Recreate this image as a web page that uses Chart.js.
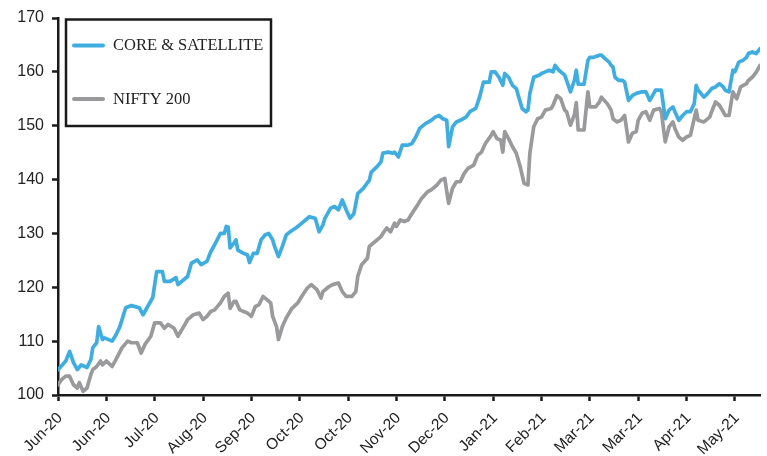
<!DOCTYPE html>
<html>
<head>
<meta charset="utf-8">
<script src="https://cdn.jsdelivr.net/npm/chart.js@4/dist/chart.umd.min.js"></script>
<style>
  html, body { margin: 0; padding: 0; background: #ffffff; }
  #wrap { width: 767px; height: 456px; position: relative; }
</style>
</head>
<body>
<div id="wrap"><canvas id="c"></canvas></div>
<script>
// ---- DATA ----
// x axis: day offsets from 1 Jun 2020; tick every 25 days
const tickLabels = ['Jun-20','Jun-20','Jul-20','Aug-20','Sep-20','Oct-20','Oct-20','Nov-20','Dec-20','Jan-21','Feb-21','Mar-21','Mar-21','Apr-21','May-21'];

const seriesNames = ['CORE & SATELLITE', 'NIFTY 200'];

const coreDays = [0,4,6,8,10,12,15,17,18,20,21,23,24,28,30,32,35,38,42,44,46,49,51,54,55,58,61,62,65,67,69,72,74,77,79,81,84,86,87,88,89,91,92,93,96,98,99,101,103,105,107,109,111,112,114,116,118,120,123,125,128,130,133,135,137,138,141,143,145,147,149,151,153,155,158,161,162,165,167,168,171,173,174,176,178,181,183,185,187,190,193,195,197,199,201,202,204,206,208,211,213,216,218,220,223,224,226,228,230,231,233,235,237,238,240,242,243,244,246,249,250,252,254,256,257,259,262,263,265,267,268,269,272,274,275,277,280,281,283,285,286,287,288,290,292,293,295,297,299,302,304,306,307,309,312,314,316,318,319,321,323,325,327,329,330,331,334,336,338,340,342,344,345,347,349,350,352,354,356,357,359,361,363];
const coreValues = [104.7,106.3,108.1,106.0,104.7,105.6,105.1,106.6,108.8,109.7,112.7,110.3,110.6,110.0,111.2,112.7,116.2,116.6,116.2,114.9,116.2,118.1,122.9,122.9,121.1,121.1,121.8,120.5,121.4,122.0,124.5,125.1,124.2,124.8,126.6,127.9,130.0,130.0,131.3,131.2,127.3,128.2,128.8,126.9,126.3,126.0,124.6,126.3,126.3,128.8,129.7,130.0,128.8,127.6,125.7,127.6,129.7,130.3,131.0,131.6,132.5,133.1,132.8,130.3,131.6,132.8,134.7,135.0,134.4,136.2,134.4,132.8,133.7,137.4,138.4,139.9,141.4,142.4,143.3,144.9,145.1,144.9,145.1,144.2,146.4,146.4,146.7,147.9,149.5,150.4,151.0,151.6,151.9,151.3,151.0,146.1,149.8,150.7,151.0,151.6,152.6,153.2,155.3,158.1,158.1,160.0,160.0,159.0,157.5,159.7,159.0,157.5,156.9,155.6,153.2,152.6,152.9,156.0,159.0,159.4,159.7,160.0,160.3,160.0,161.2,160.3,159.4,158.4,156.3,158.4,160.3,157.7,157.7,162.1,162.7,162.7,163.1,163.1,162.4,161.8,161.2,160.9,159.0,158.4,158.4,158.1,154.7,155.6,156.0,156.3,156.3,154.7,155.3,156.6,156.6,151.3,152.9,153.5,152.6,151.0,151.9,152.6,152.6,154.1,157.5,156.6,155.3,156.0,156.9,157.2,157.8,157.2,156.6,156.3,160.3,160.0,161.8,162.1,162.7,163.4,163.7,163.4,164.3];

const niftyDays = [0,2,4,6,8,10,11,13,15,17,18,20,22,23,25,28,30,33,36,38,41,43,45,48,50,53,55,57,60,62,65,67,70,73,75,77,79,81,84,86,88,89,91,92,94,96,98,100,102,104,106,108,110,111,113,114,116,118,119,121,124,126,129,131,134,136,137,140,142,145,147,149,152,154,155,157,160,161,164,167,168,170,172,174,175,177,179,181,183,186,188,191,193,196,198,200,202,204,206,208,210,212,215,217,219,221,224,225,227,229,230,231,233,235,237,239,241,243,244,246,248,250,252,255,256,258,260,262,263,265,267,268,269,272,274,275,278,280,281,284,286,287,289,291,293,295,297,299,300,302,304,306,308,311,312,314,316,318,319,321,323,325,327,330,331,334,337,338,340,342,344,345,347,349,351,353,356,357,359,361,363];
const niftyValues = [101.9,102.9,103.5,103.5,101.9,101.3,102.3,100.7,101.3,103.8,104.7,105.3,106.3,105.6,106.3,105.3,106.6,108.7,110.0,109.7,109.7,107.8,109.4,110.9,113.4,113.4,112.4,113.1,112.4,110.9,112.7,114.0,114.9,115.2,114.0,114.6,115.5,115.8,117.1,118.3,118.9,116.1,117.4,117.4,115.8,115.5,115.2,114.6,116.4,116.8,118.3,117.7,117.1,114.6,112.7,110.3,112.7,114.3,114.9,116.1,117.1,118.3,119.9,120.5,119.5,118.0,119.2,120.1,120.5,120.8,119.2,118.3,118.3,119.2,122.0,124.2,125.4,127.6,128.5,129.4,130.0,131.0,130.3,131.9,131.3,132.5,132.2,132.5,133.7,135.3,136.5,137.7,138.1,139.0,139.9,140.2,135.6,138.4,139.6,139.6,141.1,142.1,142.7,144.5,145.1,146.7,148.2,148.9,147.6,147.3,145.1,148.9,147.6,146.1,144.9,142.4,139.3,139.0,144.9,149.8,151.3,151.6,152.9,153.2,153.8,155.6,155.0,152.9,152.6,150.1,152.0,154.3,149.2,149.2,156.3,153.5,153.5,154.4,155.3,154.1,152.9,151.3,150.7,151.0,151.9,147.0,148.6,148.9,151.0,152.3,152.6,151.0,152.9,153.2,152.6,147.0,149.8,150.7,149.5,147.9,147.3,147.9,148.2,152.9,151.0,150.7,151.6,152.6,154.4,153.8,152.6,151.9,151.9,156.3,155.0,157.2,157.8,158.4,159.0,159.9,161.2];

const yTicks = [100,110,120,130,140,150,160,170];

// ---- STYLE ----
const colors = ['#3fade0', '#9a9a9c'];
const AXIS = '#1a1a1a';

function toPoints(xs, ys) { return xs.map((d, i) => ({ x: d, y: ys[i] })); }

const boxLegend = {
  id: 'boxLegend',
  afterDraw(chart) {
    const ctx = chart.ctx;
    const left = 66, top = 19.5, w = 205, h = 106.5;
    ctx.save();
    ctx.strokeStyle = AXIS;
    ctx.lineWidth = 2.5;
    ctx.strokeRect(left, top, w, h);
    const rowY = [45.5, 99];
    chart.data.datasets.forEach((ds, i) => {
      ctx.strokeStyle = ds.borderColor;
      ctx.lineWidth = 4;
      ctx.lineCap = 'round';
      ctx.beginPath();
      ctx.moveTo(74, rowY[i]);
      ctx.lineTo(103, rowY[i]);
      ctx.stroke();
      ctx.fillStyle = '#222222';
      ctx.font = '16.5px "Liberation Serif", "Times New Roman", serif';
      ctx.textBaseline = 'middle';
      ctx.textAlign = 'left';
      ctx.fillText(ds.label, 113, rowY[i] + 0.5);
    });
    ctx.restore();
  }
};

new Chart(document.getElementById('c'), {
  type: 'line',
  data: {
    datasets: [
      { label: seriesNames[0], data: toPoints(coreDays, coreValues), borderColor: colors[0], backgroundColor: colors[0] },
      { label: seriesNames[1], data: toPoints(niftyDays, niftyValues), borderColor: colors[1], backgroundColor: colors[1] }
    ]
  },
  options: {
    responsive: true,
    maintainAspectRatio: false,
    animation: false,
    devicePixelRatio: 1,
    layout: { padding: { top: 18, right: 7, bottom: 0, left: 0 } },
    elements: {
      line: { borderWidth: 3.7, tension: 0, borderJoinStyle: 'round', borderCapStyle: 'round' },
      point: { radius: 0, hoverRadius: 0 }
    },
    plugins: { legend: { display: false }, tooltip: { enabled: false } },
    scales: {
      x: {
        type: 'linear',
        min: 0,
        max: 363,
        afterBuildTicks(scale) {
          scale.ticks = tickLabels.map((_, i) => ({ value: i * 25 }));
        },
        afterFit(scale) { scale.height = 61; },
        ticks: {
          autoSkip: false,
          minRotation: 45,
          maxRotation: 45,
          padding: 8,
          labelOffset: 2,
          color: '#222222',
          font: { family: '"Liberation Sans", Arial, sans-serif', size: 15.5 },
          callback(value) { return tickLabels[Math.round(value / 25)]; }
        },
        grid: { drawOnChartArea: false, drawTicks: true, tickLength: 6, tickWidth: 2.5, tickColor: AXIS },
        border: { display: true, color: AXIS, width: 2.5 }
      },
      y: {
        type: 'linear',
        min: 100,
        max: 170,
        afterBuildTicks(scale) {
          scale.ticks = yTicks.map(v => ({ value: v }));
        },
        afterFit(scale) { scale.width = 58; },
        ticks: {
          padding: 8,
          color: '#222222',
          font: { family: '"Liberation Sans", Arial, sans-serif', size: 16 }
        },
        grid: { drawOnChartArea: false, drawTicks: true, tickLength: 6, tickWidth: 2.5, tickColor: AXIS },
        border: { display: true, color: AXIS, width: 2.5 }
      }
    }
  },
  plugins: [boxLegend]
});
</script>
</body>
</html>
